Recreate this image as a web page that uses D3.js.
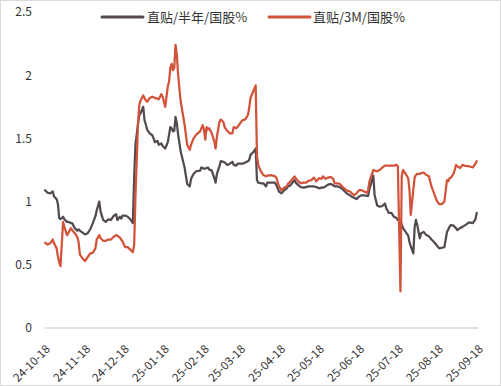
<!DOCTYPE html>
<html>
<head>
<meta charset="utf-8">
<script src="https://cdn.jsdelivr.net/npm/d3@7/dist/d3.min.js"></script>
<style>
  html, body { margin: 0; padding: 0; background: #fff; }
  svg { display: block; }
  text { font-family: "Noto Sans CJK SC", "Noto Sans", sans-serif; fill: #333; }
</style>
</head>
<body>
<svg id="chart" width="501" height="386"></svg>
<script>
// ---- data ----
const seriesNames = ["直贴/半年/国股%", "直贴/3M/国股%"];
const dates = [
"2024-10-18","2024-10-20","2024-10-22","2024-10-24","2024-10-25","2024-10-27","2024-10-28","2024-10-29","2024-10-30",
"2024-11-01","2024-11-02","2024-11-04","2024-11-05","2024-11-07","2024-11-08","2024-11-10","2024-11-12","2024-11-13","2024-11-14",
"2024-11-16","2024-11-18","2024-11-20","2024-11-22","2024-11-24","2024-11-26","2024-11-27","2024-11-29","2024-11-30",
"2024-12-02","2024-12-04","2024-12-06","2024-12-08","2024-12-10","2024-12-12","2024-12-13","2024-12-15","2024-12-16","2024-12-17",
"2024-12-19","2024-12-21","2024-12-23","2024-12-25","2024-12-26","2024-12-27","2024-12-29","2024-12-30","2024-12-31",
"2025-01-02","2025-01-03","2025-01-04","2025-01-05","2025-01-07","2025-01-09","2025-01-10","2025-01-11","2025-01-13","2025-01-14",
"2025-01-16","2025-01-17","2025-01-19","2025-01-21","2025-01-22","2025-01-23","2025-01-24","2025-01-25","2025-01-26","2025-01-27",
"2025-01-28","2025-01-29","2025-01-31","2025-02-03","2025-02-05","2025-02-07","2025-02-08","2025-02-10","2025-02-12","2025-02-15",
"2025-02-16","2025-02-17","2025-02-18","2025-02-19","2025-02-20","2025-02-21","2025-02-22","2025-02-24","2025-02-26","2025-02-27",
"2025-02-28","2025-03-02","2025-03-03","2025-03-05","2025-03-06","2025-03-08","2025-03-10","2025-03-12","2025-03-13","2025-03-15",
"2025-03-16","2025-03-18","2025-03-20","2025-03-22","2025-03-24","2025-03-25","2025-03-26","2025-03-28","2025-03-30","2025-03-31",
"2025-04-01","2025-04-03","2025-04-05","2025-04-07","2025-04-08","2025-04-11","2025-04-14","2025-04-15","2025-04-17","2025-04-19",
"2025-04-21","2025-04-23","2025-04-24","2025-04-26","2025-04-29","2025-04-30","2025-05-02","2025-05-04","2025-05-06","2025-05-08",
"2025-05-10","2025-05-12","2025-05-14","2025-05-16","2025-05-18","2025-05-20","2025-05-21","2025-05-23","2025-05-25","2025-05-27",
"2025-05-29","2025-05-30","2025-06-01","2025-06-03","2025-06-05","2025-06-07","2025-06-09","2025-06-11","2025-06-12","2025-06-14",
"2025-06-16","2025-06-18","2025-06-20","2025-06-22","2025-06-24","2025-06-25","2025-06-26","2025-06-28","2025-06-29","2025-06-30",
"2025-07-02","2025-07-04","2025-07-06","2025-07-08","2025-07-09","2025-07-11","2025-07-13","2025-07-15","2025-07-17","2025-07-18",
"2025-07-20","2025-07-21","2025-07-22","2025-07-24","2025-07-26","2025-07-27","2025-07-28","2025-07-30","2025-07-31","2025-08-01",
"2025-08-02","2025-08-04","2025-08-05","2025-08-07","2025-08-09","2025-08-11","2025-08-13","2025-08-15","2025-08-17","2025-08-19",
"2025-08-21","2025-08-23","2025-08-25","2025-08-26","2025-08-27","2025-08-28","2025-08-30","2025-08-31","2025-09-01","2025-09-02",
"2025-09-04","2025-09-06","2025-09-09","2025-09-11","2025-09-14","2025-09-16","2025-09-17"
];
const halfYear = [
1.09,1.07,1.065,1.08,1.04,1.02,0.98,0.87,0.86,
0.88,0.86,0.84,0.84,0.83,0.83,0.79,0.77,0.78,0.77,
0.755,0.74,0.75,0.78,0.83,0.885,0.93,1.00,0.92,
0.855,0.84,0.86,0.855,0.886,0.90,0.855,0.88,0.865,0.89,
0.89,0.88,0.86,0.83,1.2,1.45,1.62,1.685,1.70,
1.75,1.645,1.61,1.57,1.54,1.525,1.50,1.47,1.48,1.45,
1.46,1.44,1.42,1.47,1.53,1.59,1.58,1.555,1.56,1.67,
1.62,1.53,1.395,1.27,1.14,1.12,1.18,1.22,1.24,1.245,
1.27,1.265,1.26,1.26,1.265,1.27,1.255,1.245,1.185,1.15,
1.22,1.28,1.32,1.315,1.31,1.29,1.30,1.315,1.29,1.285,
1.30,1.30,1.30,1.31,1.32,1.33,1.37,1.39,1.42,1.17,
1.15,1.145,1.145,1.12,1.15,1.15,1.15,1.13,1.08,1.065,
1.09,1.105,1.12,1.13,1.17,1.15,1.13,1.115,1.11,1.115,
1.12,1.12,1.12,1.115,1.105,1.11,1.11,1.12,1.135,1.14,
1.13,1.12,1.12,1.115,1.10,1.08,1.06,1.05,1.04,1.03,
1.02,1.04,1.05,1.05,1.045,1.045,1.10,1.17,1.205,1.05,
0.97,0.96,0.965,0.985,0.95,0.91,0.91,0.88,0.87,0.855,
0.84,0.82,0.79,0.76,0.73,0.68,0.645,0.59,0.80,0.855,
0.815,0.71,0.75,0.76,0.735,0.725,0.70,0.68,0.655,0.63,
0.635,0.64,0.76,0.78,0.80,0.815,0.81,0.80,0.79,0.775,
0.79,0.80,0.82,0.835,0.83,0.86,0.91
];
const threeMonth = [
0.675,0.66,0.67,0.70,0.67,0.63,0.565,0.52,0.49,
0.84,0.80,0.735,0.75,0.79,0.775,0.75,0.72,0.68,0.58,
0.55,0.53,0.56,0.59,0.595,0.63,0.70,0.735,0.71,
0.69,0.69,0.70,0.70,0.72,0.735,0.73,0.715,0.70,0.685,
0.64,0.64,0.62,0.60,0.66,1.05,1.62,1.77,1.80,
1.84,1.82,1.80,1.79,1.82,1.83,1.825,1.82,1.815,1.81,
1.85,1.83,1.75,1.91,1.95,2.06,2.09,2.04,2.06,2.24,
2.16,2.0,1.79,1.61,1.45,1.41,1.45,1.50,1.53,1.555,
1.58,1.605,1.57,1.49,1.59,1.57,1.58,1.54,1.475,1.42,
1.515,1.63,1.65,1.63,1.59,1.56,1.54,1.54,1.59,1.58,
1.59,1.62,1.645,1.65,1.685,1.74,1.82,1.87,1.92,1.36,
1.29,1.24,1.21,1.20,1.205,1.21,1.20,1.19,1.12,1.09,
1.11,1.12,1.14,1.16,1.20,1.185,1.16,1.145,1.15,1.15,
1.165,1.17,1.19,1.16,1.185,1.18,1.20,1.18,1.19,1.195,
1.18,1.145,1.145,1.14,1.12,1.10,1.085,1.08,1.07,1.05,
1.065,1.09,1.09,1.08,1.07,1.09,1.16,1.22,1.25,1.245,
1.24,1.25,1.27,1.285,1.285,1.285,1.285,1.285,1.29,1.28,
0.29,1.20,1.25,1.22,1.185,1.09,0.895,1.10,1.19,1.21,
1.22,1.22,1.225,1.23,1.21,1.20,1.12,1.065,1.01,0.98,
0.98,1.00,1.17,1.16,1.185,1.19,1.22,1.25,1.29,1.28,
1.265,1.29,1.28,1.28,1.27,1.30,1.32
];
const yTicks = [0, 0.5, 1, 1.5, 2, 2.5];
const xTickDates = ["2024-10-18","2024-11-18","2024-12-18","2025-01-18","2025-02-18","2025-03-18",
                    "2025-04-18","2025-05-18","2025-06-18","2025-07-18","2025-08-18","2025-09-18"];
const xTickLabels = ["24-10-18","24-11-18","24-12-18","25-01-18","25-02-18","25-03-18",
                     "25-04-18","25-05-18","25-06-18","25-07-18","25-08-18","25-09-18"];
const colors = ["#524a4e", "#d2533a"];

// ---- drawing ----
const svg = d3.select("#chart");
const W = 501, H = 386;
const parse = d3.timeParse("%Y-%m-%d");

svg.append("rect").attr("x", 0.5).attr("y", 0.5).attr("width", W - 1).attr("height", H - 1)
  .attr("fill", "#fff").attr("stroke", "#d9d9d9").attr("stroke-width", 1);

const x = d3.scaleTime()
  .domain([parse(xTickDates[0]), parse(xTickDates[xTickDates.length - 1])])
  .range([45, 478]);
const y = d3.scaleLinear().domain([0, 2.5]).range([328, 12]);

// baseline
svg.append("line").attr("x1", 45).attr("x2", 478).attr("y1", y(0)).attr("y2", y(0))
  .attr("stroke", "#d9d9d9").attr("stroke-width", 1.5);

// y axis labels
const yAxis = d3.axisLeft(y).tickValues(yTicks).tickSize(0).tickPadding(0)
  .tickFormat(d => String(d));
const gy = svg.append("g").attr("transform", "translate(32,0)").call(yAxis);
gy.select(".domain").remove();
gy.selectAll("text").attr("font-size", 12).attr("fill", "#333")
  .style("font-family", '"Noto Sans CJK SC", "Noto Sans", sans-serif');

// x axis labels (rotated)
const xAxis = d3.axisBottom(x).tickValues(xTickDates.map(parse)).tickSize(0)
  .tickFormat((d, i) => xTickLabels[i]);
const gx = svg.append("g").attr("transform", "translate(0,0)").call(xAxis);
gx.select(".domain").remove();
gx.selectAll(".tick").attr("transform", d => `translate(${x(d) + 3},347)`);
gx.selectAll(".tick text")
  .attr("x", 0).attr("y", 0).attr("dy", "0.35em")
  .attr("text-anchor", "end")
  .attr("transform", "rotate(-45)")
  .attr("font-size", 11.5).attr("fill", "#333")
  .style("font-family", '"Noto Sans CJK SC", "Noto Sans", sans-serif');

// lines
const series = [halfYear, threeMonth];
const line = d3.line().x(d => x(d[0])).y(d => y(d[1]));
series.forEach((vals, k) => {
  const pts = dates.map((d, i) => [parse(d), vals[i]]);
  svg.append("path").datum(pts)
    .attr("fill", "none").attr("stroke", colors[k]).attr("stroke-width", 2.25)
    .attr("stroke-linejoin", "round").attr("stroke-linecap", "round")
    .attr("d", line);
});

// legend
const legend = [{x1: 102, x2: 143, tx: 147}, {x1: 269, x2: 310, tx: 313}];
legend.forEach((L, k) => {
  svg.append("line").attr("x1", L.x1).attr("x2", L.x2).attr("y1", 17).attr("y2", 17)
    .attr("stroke", colors[k]).attr("stroke-width", 3).attr("stroke-linecap", "round");
  svg.append("text").attr("x", L.tx).attr("y", 17).attr("dy", "0.36em")
    .attr("font-size", 13).attr("fill", "#333").text(seriesNames[k]);
});
</script>
</body>
</html>
